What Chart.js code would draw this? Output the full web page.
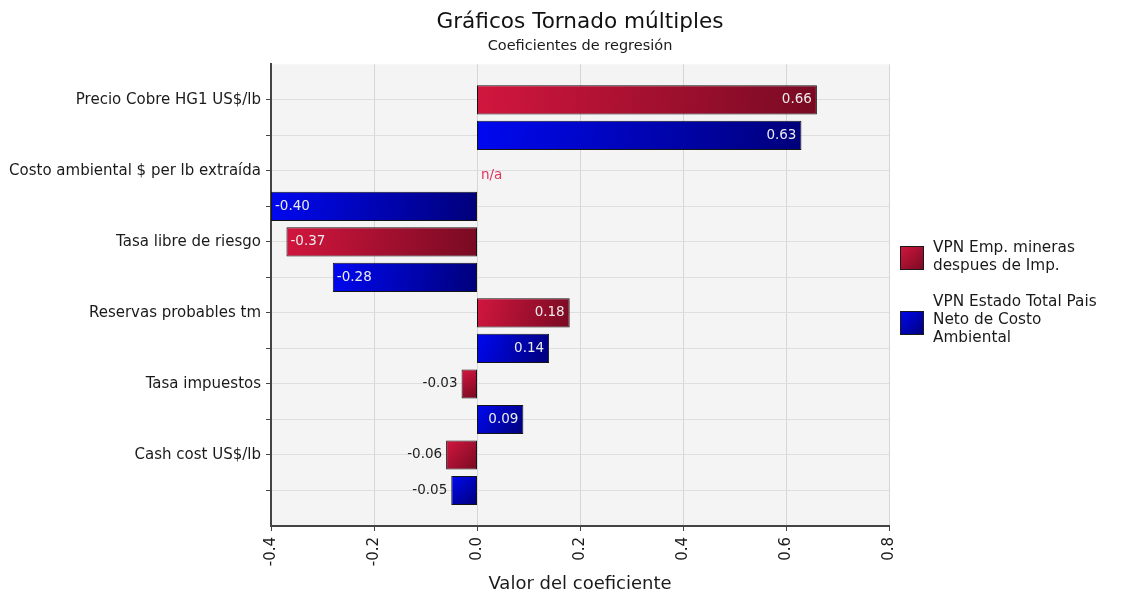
<!DOCTYPE html>
<html>
<head>
<meta charset="utf-8">
<script src="https://cdn.jsdelivr.net/npm/chart.js"></script>
<style>
  html, body { margin: 0; padding: 0; background: #fff; }
  #wrap { width: 1121px; height: 598px; }
</style>
</head>
<body>
<div id="wrap"><canvas id="chart"></canvas></div>
<script>
const categories = [
  'Precio Cobre HG1 US$/lb',
  'Costo ambiental $ per lb extraída',
  'Tasa libre de riesgo',
  'Reservas probables tm',
  'Tasa impuestos',
  'Cash cost US$/lb'
];
const mineras = [0.66, null, -0.37, 0.18, -0.03, -0.06];
const estado = [0.63, -0.40, -0.28, 0.14, 0.09, -0.05];
const seriesNames = [
  ['VPN Emp. mineras', 'despues de Imp.'],
  ['VPN Estado Total Pais', 'Neto de Costo', 'Ambiental']
];
const xMin = -0.4, xMax = 0.8, xStep = 0.2;

const FONT = '"DejaVu Sans", sans-serif';
const RED = ['#d2163e', '#780a22'];
const BLUE = ['#0008f0', '#00007a'];

// one row per bar: blank row above and below, red then blue for each category
const rows = [''];
const redRows = [null];
const blueRows = [null];
categories.forEach((c, i) => {
  rows.push(c, '');
  redRows.push(mineras[i], null);
  blueRows.push(null, estado[i]);
});
rows.push('');
redRows.push(null);
blueRows.push(null);
const naRows = [];
mineras.forEach((v, i) => { if (v === null) naRows.push(1 + 2 * i); });

function gradientFill(colors) {
  return function (c) {
    const chart = c.chart;
    const v = c.raw;
    if (!chart.chartArea || v === null || v === undefined || !chart.scales.x) return colors[0];
    const x = chart.scales.x, y = chart.scales.y;
    const a = x.getPixelForValue(0), b = x.getPixelForValue(v);
    const yc = y.getPixelForValue(c.dataIndex);
    const g = chart.ctx.createLinearGradient(Math.min(a, b), yc - 14, Math.max(a, b), yc + 14);
    g.addColorStop(0, colors[0]);
    g.addColorStop(1, colors[1]);
    return g;
  };
}

const plotBackground = {
  id: 'plotBackground',
  beforeDraw(chart) {
    const { ctx, chartArea: a } = chart;
    ctx.save();
    ctx.fillStyle = '#f4f4f4';
    ctx.fillRect(a.left, a.top, a.right - a.left, a.bottom - a.top);
    ctx.restore();
  }
};

const valueLabels = {
  id: 'valueLabels',
  afterDatasetsDraw(chart) {
    const { ctx } = chart;
    const zero = chart.scales.x.getPixelForValue(0);
    ctx.save();
    ctx.font = '13.5px ' + FONT;
    ctx.textBaseline = 'middle';
    chart.data.datasets.forEach((ds, di) => {
      const meta = chart.getDatasetMeta(di);
      meta.data.forEach((bar, i) => {
        const v = ds.data[i];
        if (v === null) {
          if (di === 0 && naRows.includes(i)) {
            ctx.fillStyle = '#e0335f';
            ctx.textAlign = 'left';
            ctx.fillText('n/a', zero + 4, chart.scales.y.getPixelForValue(i) + 5);
          }
          return;
        }
        const text = v.toFixed(2);
        const w = ctx.measureText(text).width;
        const len = Math.abs(bar.x - zero);
        if (len > w + 10) {
          ctx.fillStyle = '#ececec';
          if (v >= 0) { ctx.textAlign = 'right'; ctx.fillText(text, bar.x - 5, bar.y); }
          else { ctx.textAlign = 'left'; ctx.fillText(text, bar.x + 4, bar.y); }
        } else {
          ctx.fillStyle = '#1e1e1e';
          if (v >= 0) { ctx.textAlign = 'left'; ctx.fillText(text, bar.x + 4, bar.y); }
          else { ctx.textAlign = 'right'; ctx.fillText(text, bar.x - 4, bar.y); }
        }
      });
    });
    ctx.restore();
  }
};

const sideLegend = {
  id: 'sideLegend',
  afterDraw(chart) {
    const { ctx, chartArea: a } = chart;
    const x = a.right + 11;
    const tops = [246, 311];
    const lineTops = [248, 302];
    const colors = [RED, BLUE];
    ctx.save();
    ctx.font = '15.3px ' + FONT;
    ctx.textBaseline = 'middle';
    ctx.textAlign = 'left';
    seriesNames.forEach((lines, i) => {
      const g = ctx.createLinearGradient(x, tops[i], x + 24, tops[i] + 24);
      g.addColorStop(0, colors[i][0]);
      g.addColorStop(1, colors[i][1]);
      ctx.fillStyle = g;
      ctx.fillRect(x, tops[i], 24, 24);
      ctx.strokeStyle = '#1a1a1a';
      ctx.lineWidth = 1;
      ctx.strokeRect(x + 0.5, tops[i] + 0.5, 23, 23);
      ctx.fillStyle = '#1a1a1a';
      lines.forEach((t, j) => ctx.fillText(t, x + 33, lineTops[i] + j * 18));
    });
    ctx.restore();
  }
};

const hideEdge = (c, color) => (c.index === 0 || c.index === rows.length - 1) ? 'rgba(0,0,0,0)' : color;

Chart.defaults.font.family = FONT;

new Chart(document.getElementById('chart'), {
  type: 'bar',
  data: {
    labels: rows,
    datasets: [
      {
        label: seriesNames[0].join(' '),
        data: redRows,
        backgroundColor: gradientFill(RED),
        borderColor: '#141414',
        borderWidth: 1,
        borderSkipped: false
      },
      {
        label: seriesNames[1].join(' '),
        data: blueRows,
        backgroundColor: gradientFill(BLUE),
        borderColor: '#141414',
        borderWidth: 1,
        borderSkipped: false
      }
    ]
  },
  options: {
    indexAxis: 'y',
    responsive: true,
    maintainAspectRatio: false,
    animation: false,
    skipNull: true,
    barPercentage: 0.82,
    categoryPercentage: 1,
    layout: { padding: { left: 0, right: 232, top: 0, bottom: 0 } },
    plugins: {
      legend: { display: false },
      tooltip: { enabled: false },
      title: {
        display: true,
        text: 'Gráficos Tornado múltiples',
        fullSize: false,
        color: '#111',
        font: { size: 21.6, weight: 'normal' },
        padding: { top: 9, bottom: 0 }
      },
      subtitle: {
        display: true,
        text: 'Coeficientes de regresión',
        fullSize: false,
        color: '#1a1a1a',
        font: { size: 14.5, weight: 'normal' },
        padding: { top: 3, bottom: 9 }
      }
    },
    scales: {
      x: {
        type: 'linear',
        min: xMin,
        max: xMax,
        afterFit(scale) { scale.height = 72; },
        ticks: {
          stepSize: xStep,
          minRotation: 90,
          maxRotation: 90,
          padding: 6,
          color: '#1a1a1a',
          font: { size: 15 },
          callback: v => Math.abs(v) < 1e-9 ? '0.0' : Number(v).toFixed(1)
        },
        grid: { color: '#d6d6d6', tickColor: '#444', tickLength: 5 },
        border: { color: '#444', width: 2 },
        title: {
          display: true,
          text: 'Valor del coeficiente',
          color: '#1a1a1a',
          font: { size: 18 },
          padding: { top: 0, bottom: 3 }
        }
      },
      y: {
        type: 'category',
        offset: false,
        afterFit(scale) { scale.width = 271; },
        ticks: { autoSkip: false, color: '#1a1a1a', font: { size: 15 }, padding: 5 },
        grid: {
          offset: false,
          color: c => hideEdge(c, '#dedede'),
          tickColor: c => hideEdge(c, '#444'),
          tickLength: 5
        },
        border: { color: '#444', width: 2 }
      }
    }
  },
  plugins: [plotBackground, valueLabels, sideLegend]
});
</script>
</body>
</html>
